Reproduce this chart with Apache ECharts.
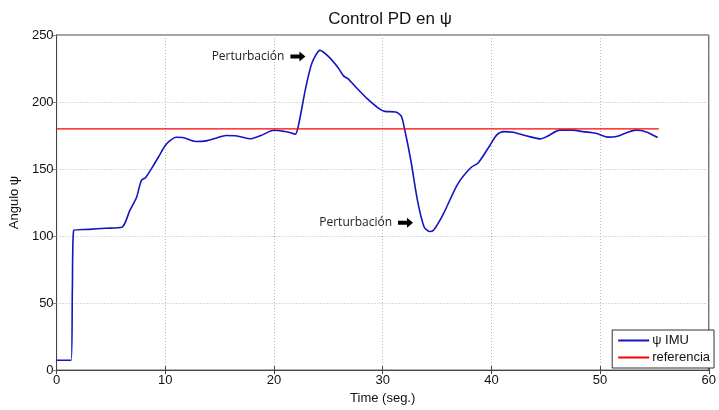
<!DOCTYPE html>
<html>
<head>
<meta charset="utf-8">
<script src="https://cdn.jsdelivr.net/npm/echarts@6/dist/echarts.min.js"></script>
<style>html,body{margin:0;padding:0;background:#fff}#c{width:719px;height:410px}</style>
</head>
<body>
<div id="c"></div>
<script>
const titleText = 'Control PD en \u03C8';
const xName = 'Time (seg.)';
const yName = 'Angulo \u03C8';
const seriesNames = ['\u03C8 IMU', 'referencia'];
const xTicks = [0, 10, 20, 30, 40, 50, 60];
const yTicks = [0, 50, 100, 150, 200, 250];

const psiTime = [0,1.34,1.45,1.58,3,4.5,6.0,6.75,7.36,7.8,8.2,8.88,9.5,9.95,10.4,11.0,11.6,12.8,13.75,14.66,15.6,16.6,17.9,18.8,20.0,21.0,21.35,21.96,22.26,22.9,23.5,24.24,25.0,25.9,26.4,26.8,27.7,28.6,29.6,30.2,31.2,31.7,32.0,32.6,33.2,33.8,34.3,34.7,35.6,36.9,38.1,38.8,39.9,40.5,41.1,42.0,43.5,44.5,45.1,46.3,47.5,48.4,49.6,50.8,51.5,53.3,54.2,55.3];
const psiValue = [7.3,7.3,60,104.3,105,105.8,106.5,119.3,129,141.6,143.7,152.3,160.8,167,171,173.7,173.5,170.6,171,173,175,174.7,172.6,175,178.9,178,177.4,176,182.8,209.8,229.3,238.5,234,225.6,219.5,217.4,209.7,202.3,195.5,193,192.6,189.6,180.4,156,126.6,107,103.4,104.6,116.8,138.8,151,154.7,168.1,175.5,177.9,177.4,174.2,172.5,174.2,179,179,177.9,176.7,173.8,174.3,179,177.9,173.5];

const refTime = [0, 55.4];
const refValue = [180, 180];

const annotTime = [22.2, 32.1];
const annotValue = [234, 110];
const annotText = ['Perturbaci\u00F3n', 'Perturbaci\u00F3n'];

const psiData = psiTime.map((t, i) => [t, psiValue[i]]);
const refData = refTime.map((t, i) => [t, refValue[i]]);
const arrowPath = 'path://M0,3 L9,3 L9,0 L15,5 L9,10 L9,7 L0,7 Z';
const markData = annotTime.map((t, i) => ({
  coord: [t, annotValue[i]],
  symbol: arrowPath,
  symbolSize: [15, 10],
  itemStyle: { color: '#000' },
  label: { show: true, position: 'left', distance: 6, formatter: annotText[i],
           color: '#222', fontFamily: 'Open Sans', fontSize: 12 }
}));

const font = 'Liberation Sans';
const chart = echarts.init(document.getElementById('c'), null, { renderer: 'canvas' });
const gridLine = { show: true, lineStyle: { color: '#b8b8b8', type: [1, 2], width: 1 } };
chart.setOption({
  animation: false,
  backgroundColor: '#fff',
  title: { text: titleText, left: 385, top: 6, textAlign: 'center',
           textStyle: { fontFamily: font, fontSize: 17, fontWeight: 'normal', color: '#111' } },
  grid: { left: 56, right: 5, top: 35, bottom: 34, show: true, borderColor: '#444', borderWidth: 1 },
  legend: {
    right: 5, bottom: 42, orient: 'vertical',
    backgroundColor: '#fff', borderColor: '#333', borderWidth: 1,
    padding: [4, 4, 4, 6], itemGap: 4, itemWidth: 31, itemHeight: 2, icon: 'rect',
    textStyle: { fontFamily: font, fontSize: 13, color: '#111', padding: [0, 0, 0, -2] },
    data: seriesNames
  },
  xAxis: [{
    type: 'value', min: xTicks[0], max: xTicks[xTicks.length - 1], interval: 10,
    name: xName, nameLocation: 'middle', nameGap: 18,
    nameTextStyle: { fontFamily: font, fontSize: 13, color: '#111' },
    axisLine: { show: true, lineStyle: { color: '#444' } },
    axisTick: { show: true, inside: true, length: 4, lineStyle: { color: '#444' } },
    axisLabel: { fontFamily: font, fontSize: 13, color: '#111', margin: 4 },
    splitLine: gridLine
  }, {
    type: 'value', position: 'top', min: xTicks[0], max: xTicks[xTicks.length - 1], interval: 10,
    axisLine: { show: true, lineStyle: { color: '#444' } },
    axisTick: { show: true, inside: true, length: 4, lineStyle: { color: '#444' } },
    axisLabel: { show: false }, splitLine: { show: false }
  }],
  yAxis: [{
    type: 'value', min: yTicks[0], max: yTicks[yTicks.length - 1], interval: 50,
    name: yName, nameLocation: 'middle', nameGap: 34,
    nameTextStyle: { fontFamily: font, fontSize: 13, color: '#111' },
    axisLine: { show: true, lineStyle: { color: '#444' } },
    axisTick: { show: true, inside: false, length: 3, lineStyle: { color: '#444' } },
    axisLabel: { fontFamily: font, fontSize: 13, color: '#111', margin: 3 },
    splitLine: gridLine
  }, {
    type: 'value', position: 'right', min: yTicks[0], max: yTicks[yTicks.length - 1], interval: 50,
    axisLine: { show: true, lineStyle: { color: '#444' } },
    axisTick: { show: true, inside: true, length: 4, lineStyle: { color: '#888' } },
    axisLabel: { show: false }, splitLine: { show: false }
  }],
  series: [{
    name: seriesNames[0], type: 'line', data: psiData, showSymbol: false, smooth: 0.25,
    lineStyle: { color: '#1414c0', width: 1.6 }, itemStyle: { color: '#1414c0' },
    markPoint: { silent: true, data: markData }
  }, {
    name: seriesNames[1], type: 'line', data: refData, showSymbol: false,
    lineStyle: { color: '#ff0000', width: 1.4 }, itemStyle: { color: '#ff0000' }
  }]
});
</script>
</body>
</html>
